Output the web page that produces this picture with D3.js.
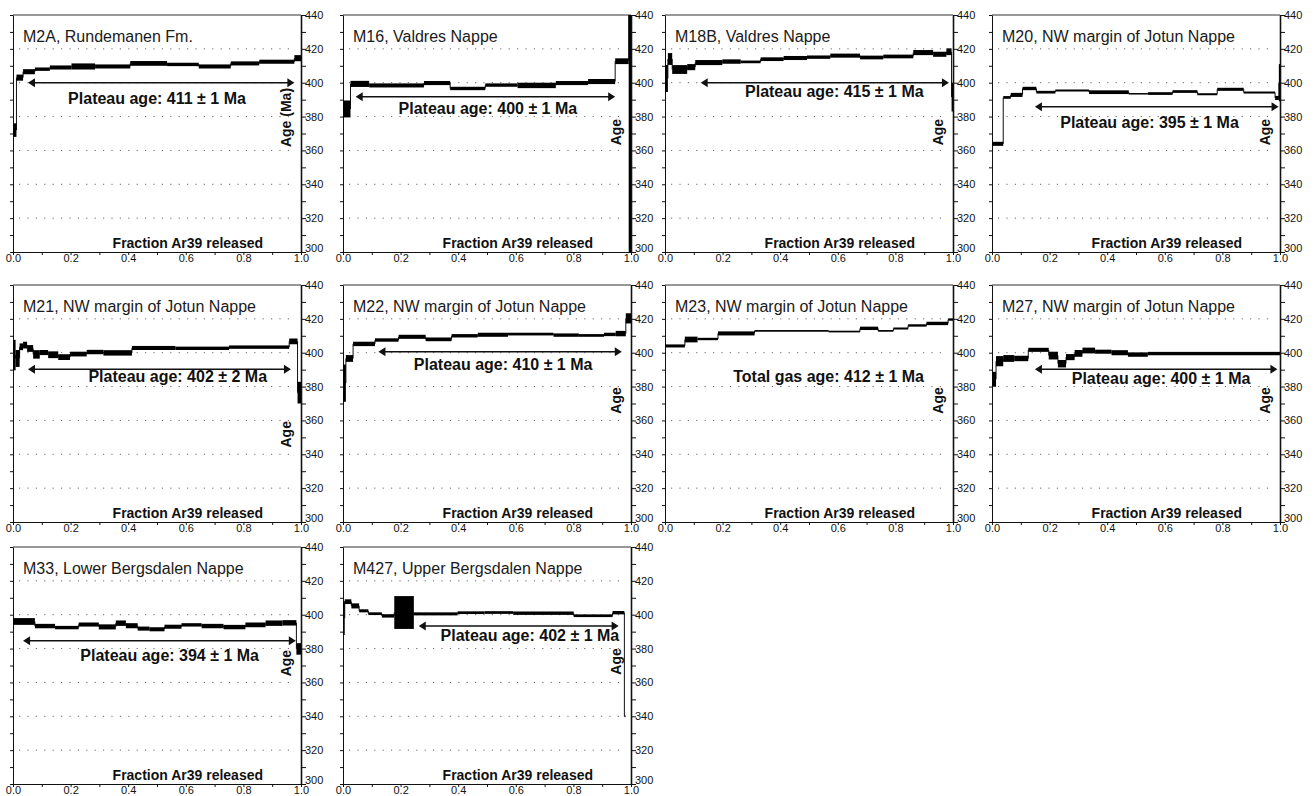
<!DOCTYPE html>
<html>
<head>
<meta charset="utf-8">
<script src="https://cdnjs.cloudflare.com/ajax/libs/d3/7.8.5/d3.min.js"></script>
<style>
body { margin: 0; background: #fff; }
text { font-family: "Liberation Sans", Arial, Helvetica, sans-serif; }
</style>
</head>
<body>
<div id="chart"></div>
<script>
// sample names, one panel each
var samples = ["M2A, Rundemanen Fm.", "M16, Valdres Nappe", "M18B, Valdres Nappe", "M20, NW margin of Jotun Nappe",
	"M21, NW margin of Jotun Nappe", "M22, NW margin of Jotun Nappe", "M23, NW margin of Jotun Nappe", "M27, NW margin of Jotun Nappe",
	"M33, Lower Bergsdalen Nappe", "M427, Upper Bergsdalen Nappe"];

// cumulative fraction of Ar39 released at each step boundary
var stepBounds = [
	[0, 0.012, 0.035, 0.076, 0.128, 0.203, 0.285, 0.407, 0.535, 0.645, 0.756, 0.855, 0.977, 1.0],
	[0, 0.026, 0.091, 0.281, 0.372, 0.494, 0.606, 0.739, 0.851, 0.945, 0.992, 1.0],
	[0, 0.01, 0.025, 0.077, 0.105, 0.199, 0.263, 0.332, 0.412, 0.493, 0.574, 0.677, 0.758, 0.862, 0.931, 0.977, 0.995, 1.0],
	[0, 0.039, 0.065, 0.106, 0.154, 0.22, 0.337, 0.475, 0.541, 0.627, 0.713, 0.782, 0.874, 0.983, 0.996, 1.0],
	[0, 0.009, 0.023, 0.035, 0.049, 0.07, 0.093, 0.122, 0.157, 0.198, 0.256, 0.314, 0.413, 0.564, 0.75, 0.959, 0.988, 1.0],
	[0, 0.01, 0.035, 0.111, 0.193, 0.287, 0.377, 0.468, 0.573, 0.731, 0.819, 0.906, 0.947, 0.982, 1.0],
	[0, 0.069, 0.113, 0.184, 0.311, 0.568, 0.677, 0.74, 0.793, 0.844, 0.908, 0.983, 1.0],
	[0, 0.014, 0.039, 0.077, 0.126, 0.197, 0.229, 0.257, 0.287, 0.314, 0.358, 0.415, 0.472, 0.541, 1.0],
	[0, 0.076, 0.146, 0.228, 0.298, 0.357, 0.392, 0.433, 0.474, 0.526, 0.585, 0.655, 0.731, 0.807, 0.877, 0.936, 0.984, 1.0],
	[0, 0.006, 0.029, 0.056, 0.088, 0.135, 0.178, 0.246, 0.398, 0.491, 0.591, 0.801, 0.936, 0.977, 0.979]
];

// apparent age of each step (Ma)
var stepAges = [
	[372, 403, 406.5, 408, 409, 409.6, 409.6, 411.4, 410.8, 409.6, 411.4, 412.4, 414.5],
	[384.5, 399.3, 398.4, 399.8, 396.6, 398.6, 398.4, 399.8, 400.7, 412.7, 480],
	[402.5, 414, 407.8, 409.2, 411.9, 412.5, 412.3, 413.9, 414.6, 415.1, 416, 414.9, 415.5, 417.8, 416.8, 418.3, 391.5],
	[363.9, 391.3, 392.8, 396.6, 394.4, 395.4, 394.4, 393.5, 393.6, 394.8, 393.2, 396.1, 394.2, 391, 400],
	[398.6, 396.6, 403.5, 404.5, 402.5, 399, 400.1, 398.8, 397.4, 399.2, 400.4, 399.9, 402.8, 402.6, 403.3, 406.7, 376.4],
	[382, 396.6, 405.2, 407.5, 409.4, 407.9, 410, 410.6, 411, 410.4, 410.2, 410.8, 411.3, 420.3],
	[404, 407.8, 408.1, 411.4, 412.9, 412.5, 414.4, 412.9, 414.3, 416.1, 417.3, 419.6],
	[384.3, 395, 396.6, 396.6, 401.7, 398.3, 393.5, 397.4, 399.6, 401.3, 400.6, 400, 398.9, 399.5],
	[396, 393.3, 392.4, 394.2, 392.8, 395, 393.5, 391.8, 391.4, 392.9, 394, 393.3, 392.7, 394, 395, 395.2, 379.8],
	[398, 407.7, 405.2, 402.3, 400.6, 399.3, 401.3, 400.5, 401.2, 401.3, 400.9, 399.4, 401.2, 340]
];

// 1 sigma error of each step (Ma)
var stepErrors = [
	[4, 1.8, 1.5, 1, 1.2, 1.8, 1.2, 1.4, 1, 1.2, 1.2, 1.2, 1.8],
	[5, 1.8, 1.2, 1.2, 1, 1, 1.6, 1.2, 1.5, 1.7, 190],
	[8, 3.5, 2.6, 1.8, 1.5, 1.3, 0.8, 1.1, 1.2, 1, 1.2, 1.1, 1.1, 1.5, 1.5, 2, 8.5],
	[1.2, 0.8, 1.2, 1, 0.8, 0.6, 1.1, 0.4, 0.8, 0.8, 0.6, 0.9, 0.6, 1.2, 11],
	[9, 5, 2, 2, 2, 2.5, 1.5, 2, 1.7, 1.4, 1.3, 1.6, 1.2, 1, 1, 1.7, 6.4],
	[11, 2, 1.3, 1, 1.2, 1.1, 1, 1.2, 0.8, 1, 0.8, 1, 1.6, 3],
	[0.9, 1.7, 0.7, 1.2, 0.5, 0.5, 1, 0.5, 0.6, 0.7, 1, 0.7],
	[4.4, 3, 2, 1.6, 1.2, 2.3, 2.2, 1.8, 2, 1.7, 1.2, 1.5, 1.3, 1],
	[2, 1.3, 1, 1.2, 1.5, 1.6, 1.5, 1.2, 1.2, 1.2, 1, 1.3, 1.3, 1.4, 1.6, 1.6, 3.4],
	[10, 1.4, 1.5, 0.9, 0.8, 1, 9.7, 0.9, 0.8, 0.8, 1, 0.8, 1, 0.5]
];

var ageNotes = ["Plateau age: 411 \u00b1 1 Ma", "Plateau age: 400 \u00b1 1 Ma", "Plateau age: 415 \u00b1 1 Ma", "Plateau age: 395 \u00b1 1 Ma",
	"Plateau age: 402 \u00b1 2 Ma", "Plateau age: 410 \u00b1 1 Ma", "Total gas age: 412 \u00b1 1 Ma", "Plateau age: 400 \u00b1 1 Ma",
	"Plateau age: 394 \u00b1 1 Ma", "Plateau age: 402 \u00b1 1 Ma"];

// plateau steps covered by the arrow [from, to] and the age it is drawn at
var plateauRanges = [[0.052, 0.977], [0.044, 0.945], [0.124, 0.986], [0.149, 0.995], [0.052, 0.965],
	[0.123, 0.968], null, [0.149, 0.991], [0.035, 0.982], [0.263, 0.957]];
var arrowAges = [400, 391.7, 400, 385.8, 390.3, 400.6, null, 390.3, 384.6, 393.4];

// where the age note sits, in [fraction, Ma]
var noteAnchors = [[0.50, 387.7], [0.503, 381.5], [0.588, 391.3], [0.547, 373], [0.572, 382.8],
	[0.556, 390], [0.568, 382.8], [0.587, 381.8], [0.544, 372.4], [0.649, 384.2]];

var yTitles = ["Age (Ma)", "Age", "Age", "Age", "Age", "Age", "Age", "Age", "Age", "Age"];
var yTitleAt = [362, 363, 363, 363, 344, 364, 364, 364, 363.6, 364.6];

var xTicks = [0, 0.1, 0.2, 0.3, 0.4, 0.5, 0.6, 0.7, 0.8, 0.9, 1.0];
var yTicks = [300, 310, 320, 330, 340, 350, 360, 370, 380, 390, 400, 410, 420, 430, 440];
var gridAges = [320, 340, 360, 380, 400, 420];
var xTitle = "Fraction Ar39 released";

var w = 1316,
	h = 796;
var colX = [13, 343, 665, 992],
	rowY = [15, 285, 547];
var pw = 288,
	ph = 237;

var root = d3.select("#chart").append("svg").attr("width", w).attr("height", h);

for (var i = 0; i < samples.length; i++) {
	drawPanel(i);
}

function drawPanel(i) {
	var g = root.append("g").attr("transform", "translate(" + colX[i % 4] + "," + rowY[Math.floor(i / 4)] + ")");
	var x = d3.scaleLinear().domain([0, 1]).range([0, pw]);
	var y = d3.scaleLinear().domain([300, 440]).range([ph, 0]);

	g.append("clipPath").attr("id", "clip" + i).append("rect").attr("width", pw).attr("height", ph);

	// dotted grid
	g.selectAll(".grid").data(gridAges).enter().append("line").classed("grid", true)
		.attr("x1", 6).attr("x2", pw - 6)
		.attr("y1", function(d) { return y(d); }).attr("y2", function(d) { return y(d); })
		.attr("stroke", "#666").attr("stroke-width", 1).attr("stroke-dasharray", "1.2,7.2");

	// axes
	g.append("line").attr("x1", 0).attr("x2", pw).attr("y1", 0).attr("y2", 0).attr("stroke", "#333").attr("stroke-width", 1);

	var left = g.append("g").call(d3.axisLeft(y).tickValues(yTicks).tickSize(3).tickSizeOuter(0).tickFormat(""));
	var right = g.append("g").attr("transform", "translate(" + pw + ",0)")
		.call(d3.axisRight(y).tickValues(yTicks).tickSize(5).tickSizeOuter(0).tickPadding(-1)
			.tickFormat(function(d) { return d % 20 === 0 ? d : ""; }));
	var bottom = g.append("g").attr("transform", "translate(0," + ph + ")")
		.call(d3.axisBottom(x).tickValues(xTicks).tickSize(3).tickSizeOuter(0).tickPadding(-1)
			.tickFormat(function(d, k) { return k % 2 === 0 ? d3.format(".1f")(d) : ""; }));
	[left, right, bottom].forEach(function(a) {
		a.attr("font-size", 11).attr("font-family", "'Liberation Sans', Arial, sans-serif");
		a.selectAll("text").attr("fill", "#111");
		a.selectAll("path, line").attr("stroke", "#111");
	});
	right.select(".domain").attr("stroke-width", 1.6);
	// lowest age label sits a little above its tick, clear of the 1.0 label
	right.selectAll(".tick text").filter(function(d) { return d === 300; }).attr("dy", "-0.05em");

	// spectrum
	var b = stepBounds[i],
		ages = stepAges[i],
		errs = stepErrors[i];
	var steps = ages.map(function(a, j) {
		return { x0: b[j], x1: b[j + 1], age: a, err: errs[j] };
	});
	var spec = g.append("g").attr("clip-path", "url(#clip" + i + ")");
	spec.selectAll(".link").data(steps.slice(1)).enter().append("line").classed("link", true)
		.attr("x1", function(d) { return x(d.x0); }).attr("x2", function(d) { return x(d.x0); })
		.attr("y1", function(d, j) { return y(steps[j].age); })
		.attr("y2", function(d) { return y(d.age); })
		.attr("stroke", "#111").attr("stroke-width", 1);
	spec.selectAll(".step").data(steps).enter().append("rect").classed("step", true)
		.attr("x", function(d) { return x(d.x0); })
		.attr("width", function(d) { return Math.max(1.2, x(d.x1) - x(d.x0)); })
		.attr("y", function(d) { return y(d.age + d.err); })
		.attr("height", function(d) { return Math.max(1.5, y(d.age - d.err) - y(d.age + d.err)); })
		.attr("fill", "#000");

	// plateau arrow
	if (plateauRanges[i]) {
		var ax0 = x(plateauRanges[i][0]),
			ax1 = x(plateauRanges[i][1]),
			ay = y(arrowAges[i]);
		g.append("line").attr("x1", ax0 + 4).attr("x2", ax1 - 4).attr("y1", ay).attr("y2", ay)
			.attr("stroke", "#111").attr("stroke-width", 1.5);
		g.append("polygon").attr("points", ax0 + "," + ay + " " + (ax0 + 7) + "," + (ay - 4.5) + " " + (ax0 + 7) + "," + (ay + 4.5)).attr("fill", "#111");
		g.append("polygon").attr("points", ax1 + "," + ay + " " + (ax1 - 7) + "," + (ay - 4.5) + " " + (ax1 - 7) + "," + (ay + 4.5)).attr("fill", "#111");
	}

	// texts
	g.append("text").attr("x", 10).attr("y", 26.5).attr("font-size", 16).attr("fill", "#1a1a1a").text(samples[i]);
	g.append("text").attr("x", x(noteAnchors[i][0])).attr("y", y(noteAnchors[i][1]))
		.attr("text-anchor", "middle").attr("font-size", 16).attr("font-weight", "bold").attr("fill", "#111").text(ageNotes[i]);
	g.append("text").attr("x", x(0.607)).attr("y", ph - 4)
		.attr("text-anchor", "middle").attr("font-size", 14).attr("font-weight", "bold").attr("fill", "#111").text(xTitle);
	g.append("text").attr("transform", "translate(" + (pw - 10) + "," + y(yTitleAt[i]) + ") rotate(-90)")
		.attr("font-size", 14).attr("font-weight", "bold").attr("fill", "#111").text(yTitles[i]);
}
</script>
</body>
</html>
